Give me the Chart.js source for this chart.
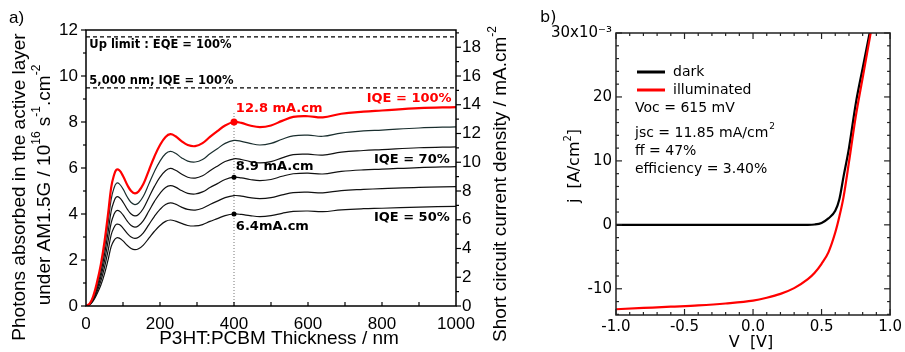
<!DOCTYPE html>
<html>
<head>
<meta charset="utf-8">
<script src="https://cdn.jsdelivr.net/npm/chart.js@4.4.1/dist/chart.umd.min.js"></script>
<style>
    html, body { margin: 0; padding: 0; background: #fff; }
    #wrap { position: relative; width: 905px; height: 352px; }
    canvas { position: absolute; top: 0; }
    #thicknessChart { left: 0; }
    #ivChart { left: 530px; }
</style>
</head>
<body>
<div id="wrap">
    <canvas id="thicknessChart" width="530" height="352"></canvas>
    <canvas id="ivChart" width="375" height="352"></canvas>
</div>
<script>
// ---- (a) absorbed photons vs. P3HT:PCBM thickness (10^16 s-1.cm-2) ----
const thickness = [0, 10, 20, 30, 40, 50, 60, 68, 75, 82, 90, 100, 112, 122, 132, 142, 155, 170, 185, 200,
    215, 228, 242, 258, 275, 295, 315, 335, 355, 376, 400, 420, 443, 470, 500, 530, 560, 600, 640, 690,
    750, 800, 900, 1000];
const iqe100 = [0, 0.1, 0.45, 1.05, 1.8, 2.8, 4.05, 5.15, 5.65, 5.92, 5.9, 5.65, 5.25, 5.0, 4.9, 4.98, 5.3, 5.9, 6.5, 7.0,
    7.35, 7.47, 7.38, 7.17, 7.0, 6.95, 7.08, 7.35, 7.6, 7.85, 8.0, 7.96, 7.85, 7.78, 7.85, 8.05, 8.22, 8.25, 8.2, 8.36,
    8.45, 8.5, 8.6, 8.65];
const iqe90 = [0, 0.09, 0.41, 0.95, 1.62, 2.52, 3.65, 4.64, 5.09, 5.33, 5.31, 5.09, 4.73, 4.5, 4.41, 4.48, 4.77, 5.31, 5.85, 6.3,
    6.62, 6.72, 6.64, 6.45, 6.3, 6.26, 6.37, 6.62, 6.84, 7.07, 7.2, 7.16, 7.07, 7.0, 7.07, 7.25, 7.4, 7.43, 7.38, 7.52,
    7.61, 7.65, 7.74, 7.79];
const iqe80 = [0, 0.08, 0.36, 0.84, 1.44, 2.24, 3.24, 4.12, 4.52, 4.74, 4.72, 4.52, 4.2, 4.0, 3.92, 3.98, 4.24, 4.72, 5.2, 5.6,
    5.88, 5.98, 5.9, 5.74, 5.6, 5.56, 5.66, 5.88, 6.08, 6.28, 6.4, 6.37, 6.28, 6.22, 6.28, 6.44, 6.58, 6.6, 6.56, 6.69,
    6.76, 6.8, 6.88, 6.92];
const iqe70 = [0, 0.07, 0.32, 0.74, 1.26, 1.96, 2.84, 3.61, 3.96, 4.14, 4.13, 3.96, 3.68, 3.5, 3.43, 3.49, 3.71, 4.13, 4.55, 4.9,
    5.15, 5.23, 5.17, 5.02, 4.9, 4.87, 4.96, 5.15, 5.32, 5.5, 5.6, 5.57, 5.5, 5.45, 5.5, 5.64, 5.75, 5.78, 5.74, 5.85,
    5.92, 5.95, 6.02, 6.06];
const iqe60 = [0, 0.06, 0.27, 0.63, 1.08, 1.68, 2.43, 3.09, 3.39, 3.55, 3.54, 3.39, 3.15, 3.0, 2.94, 2.99, 3.18, 3.54, 3.9, 4.2,
    4.41, 4.48, 4.43, 4.3, 4.2, 4.17, 4.25, 4.41, 4.56, 4.71, 4.8, 4.78, 4.71, 4.67, 4.71, 4.83, 4.93, 4.95, 4.92, 5.02,
    5.07, 5.1, 5.16, 5.19];
const iqe50 = [0, 0.05, 0.23, 0.53, 0.9, 1.4, 2.03, 2.58, 2.83, 2.96, 2.95, 2.83, 2.63, 2.5, 2.45, 2.49, 2.65, 2.95, 3.25, 3.5,
    3.68, 3.74, 3.69, 3.59, 3.5, 3.48, 3.54, 3.68, 3.8, 3.93, 4.0, 3.98, 3.93, 3.89, 3.93, 4.03, 4.11, 4.13, 4.1, 4.18,
    4.23, 4.25, 4.3, 4.33];

const eqeLimit = 11.7;     // up limit, EQE = 100%
const thickLimit = 9.48;   // 5,000 nm, IQE = 100%
const markerThickness = 400;
const markerValues = [8.0, 5.6, 4.0];   // 12.8, 8.9 and 6.4 mA.cm-2
const dropTop = 8.45;

const thicknessTicks = [0, 200, 400, 600, 800, 1000];
const photonTicks = [0, 2, 4, 6, 8, 10, 12];
const currentTicks = [0, 2, 4, 6, 8, 10, 12, 14, 16, 18];
const currentMax = 19.2;   // right axis top, same height as 12 on the left

// ---- (b) j-V curves (10^-3 A/cm2) ----
const voltage = [-1.0, -0.8, -0.6, -0.4, -0.2, 0, 0.1, 0.2, 0.3, 0.4, 0.45, 0.5, 0.55, 0.6, 0.63, 0.66, 0.7, 0.75, 0.8, 0.86];
const jDark = [0, 0, 0, 0, 0, 0, 0, 0, 0, 0, 0.05, 0.3, 1.0, 2.2, 4.0, 7.5, 12.0, 19.0, 24.5, 31.0];
const jIlluminated = [-13.2, -13.0, -12.8, -12.6, -12.3, -11.85, -11.4, -10.8, -9.9, -8.5, -7.5, -6.1, -4.3, -1.2, 1.3, 4.3, 9.8, 17.0, 23.0, 30.2];

const vTicks = [-1, -0.5, 0, 0.5, 1];
const vTickLabels = ['-1.0', '-0.5', '0.0', '0.5', '1.0'];
const jTicks = [-10, 0, 10, 20, 30];
const jTickLabels = ['-10', '0', '10', '20', '30x10\u207B\u00B3'];

const RED = '#ff0000';
const ARIAL = '"Liberation Sans", Arial, sans-serif';
const DEJAVU = '"DejaVu Sans", Verdana, sans-serif';

Chart.defaults.animation = false;
Chart.defaults.color = '#000';

const fixedTicks = values => scale => {
    scale.ticks = values.map(v => ({ value: v }));
};

// text with superscript pieces: strings are normal, one-item arrays are raised
function drawRich(ctx, parts, x, y, angle, size, family, weight = 'normal', color = '#000') {
    const base = `${weight} ${size}px ${family}`;
    const sup = `${weight} ${Math.round(size * 0.62)}px ${family}`;
    ctx.save();
    ctx.translate(x, y);
    ctx.rotate(angle);
    ctx.fillStyle = color;
    ctx.textBaseline = 'middle';
    ctx.textAlign = 'left';
    let total = 0;
    parts.forEach(p => {
        ctx.font = Array.isArray(p) ? sup : base;
        total += ctx.measureText(Array.isArray(p) ? p[0] : p).width;
    });
    let cx = -total / 2;
    parts.forEach(p => {
        const isSup = Array.isArray(p);
        const t = isSup ? p[0] : p;
        ctx.font = isSup ? sup : base;
        ctx.fillText(t, cx, isSup ? -size * 0.42 : 0);
        cx += ctx.measureText(t).width;
    });
    ctx.restore();
}

function line(ctx, x1, y1, x2, y2) {
    ctx.beginPath();
    ctx.moveTo(x1, y1);
    ctx.lineTo(x2, y2);
    ctx.stroke();
}

// ---------------- panel (a) ----------------
const curve = (values, color, width) => ({
    data: thickness.map((t, i) => ({ x: t, y: values[i] })),
    borderColor: color,
    borderWidth: width,
    pointRadius: 0,
    tension: 0.4,
    fill: false
});

const flatLine = value => ({
    data: [{ x: 0, y: value }, { x: 1000, y: value }],
    borderColor: '#000',
    borderWidth: 1.2,
    borderDash: [4, 3],
    pointRadius: 0
});

const thicknessNotes = [
    { text: 'Up limit : EQE = 100%', x: 9, y: 11.35, align: 'left', size: 11.5, color: '#000' },
    { text: '5,000 nm; IQE = 100%', x: 9, y: 9.78, align: 'left', size: 11.5, color: '#000' },
    { text: '12.8 mA.cm', x: 405, y: 8.57, align: 'left', size: 13, color: RED },
    { text: 'IQE = 100%', x: 988, y: 9.0, align: 'right', size: 13, color: RED },
    { text: '8.9 mA.cm', x: 405, y: 6.04, align: 'left', size: 13, color: '#000' },
    { text: 'IQE = 70%', x: 983, y: 6.35, align: 'right', size: 13, color: '#000' },
    { text: '6.4mA.cm', x: 405, y: 3.43, align: 'left', size: 13, color: '#000' },
    { text: 'IQE = 50%', x: 983, y: 3.83, align: 'right', size: 13, color: '#000' }
];

const thicknessDecor = {
    id: 'thicknessDecor',
    afterDraw(chart) {
        const { ctx, chartArea: a, scales } = chart;
        const { x, y, y2 } = scales;
        ctx.save();
        ctx.strokeStyle = '#000';
        ctx.lineWidth = 1.5;
        ctx.strokeRect(a.left, a.top, a.right - a.left, a.bottom - a.top);

        ctx.lineWidth = 1.2;
        for (let v = 0; v <= 12; v++) {
            const py = y.getPixelForValue(v);
            line(ctx, a.left, py, a.left - (v % 2 ? 3 : 5), py);
        }
        for (let v = 0; v <= 19; v++) {
            const py = y2.getPixelForValue(v);
            line(ctx, a.right, py, a.right + (v % 2 ? 3 : 5), py);
        }
        for (let v = 100; v < 1000; v += 100) {
            const px = x.getPixelForValue(v);
            line(ctx, px, a.bottom, px, a.bottom - 4);
        }

        thicknessNotes.forEach(n => {
            ctx.font = `bold ${n.size}px ${DEJAVU}`;
            ctx.fillStyle = n.color;
            ctx.textAlign = n.align;
            ctx.textBaseline = 'middle';
            ctx.fillText(n.text, x.getPixelForValue(n.x), y.getPixelForValue(n.y));
        });

        ctx.font = `17px ${ARIAL}`;
        ctx.fillStyle = '#000';
        ctx.textAlign = 'left';
        ctx.fillText('a)', 9, 18);

        drawRich(ctx, ['Photons absorbed in the active layer'], 20, 187, -Math.PI / 2, 19, ARIAL);
        drawRich(ctx, ['under AM1.5G / 10', ['16'], ' s', ['-1'], '.cm', ['-2']], 45, 185, -Math.PI / 2, 19, ARIAL);
        drawRich(ctx, ['Short circuit current density / mA.cm', ['-2']], 501, 184, -Math.PI / 2, 19, ARIAL);
        drawRich(ctx, ['P3HT:PCBM Thickness / nm'], (a.left + a.right) / 2 + 8, 339, 0, 19, ARIAL);
        ctx.restore();
    }
};

new Chart(document.getElementById('thicknessChart'), {
    type: 'line',
    data: {
        datasets: [
            {
                data: markerValues.map(v => ({ x: markerThickness, y: v })),
                showLine: false,
                pointRadius: [3.5, 2.5, 2.5],
                pointBorderWidth: 0,
                pointBackgroundColor: [RED, '#000', '#000']
            },
            curve(iqe100, RED, 2.2),
            curve(iqe90, '#1a2e2e', 1.2),
            curve(iqe80, '#111', 1.2),
            curve(iqe70, '#111', 1.2),
            curve(iqe60, '#111', 1.2),
            curve(iqe50, '#111', 1.2),
            {
                data: [{ x: markerThickness, y: 0 }, { x: markerThickness, y: dropTop }],
                borderColor: '#777',
                borderWidth: 1,
                borderDash: [1, 2],
                pointRadius: 0
            },
            flatLine(eqeLimit),
            flatLine(thickLimit)
        ]
    },
    options: {
        responsive: false,
        events: [],
        layout: { padding: { top: 30, left: 0, right: 0, bottom: 0 } },
        plugins: { legend: { display: false }, tooltip: { enabled: false } },
        scales: {
            x: {
                type: 'linear', min: 0, max: 1000,
                afterBuildTicks: fixedTicks(thicknessTicks),
                afterFit: s => { s.height = 46; },
                grid: { display: false, drawTicks: false },
                border: { display: false },
                ticks: { padding: 8, maxRotation: 0, font: { family: ARIAL, size: 17 }, callback: v => String(v) }
            },
            y: {
                position: 'left', min: 0, max: 12,
                afterBuildTicks: fixedTicks(photonTicks),
                afterFit: s => { s.width = 86; },
                grid: { display: false, drawTicks: false },
                border: { display: false },
                ticks: { padding: 8, font: { family: ARIAL, size: 17 } }
            },
            y2: {
                position: 'right', min: 0, max: currentMax,
                afterBuildTicks: fixedTicks(currentTicks),
                afterFit: s => { s.width = 74; },
                grid: { display: false, drawTicks: false },
                border: { display: false },
                ticks: { padding: 6, font: { family: ARIAL, size: 17 } }
            }
        }
    },
    plugins: [thicknessDecor]
});

// ---------------- panel (b) ----------------
const ivDecor = {
    id: 'ivDecor',
    afterDraw(chart) {
        const { ctx, chartArea: a, scales } = chart;
        const { x, y } = scales;
        ctx.save();
        ctx.strokeStyle = '#222';
        ctx.lineWidth = 1.5;
        ctx.strokeRect(a.left, a.top, a.right - a.left, a.bottom - a.top);

        ctx.lineWidth = 1.2;
        for (let k = -10; k <= 10; k++) {
            const px = x.getPixelForValue(k / 10);
            const len = k % 5 === 0 ? 6 : 3;
            line(ctx, px, a.bottom, px, a.bottom - len);
            line(ctx, px, a.top, px, a.top + len);
        }
        for (let v = -14; v <= 30; v += 2) {
            const py = y.getPixelForValue(v);
            const len = v % 10 === 0 ? 6 : 3;
            line(ctx, a.left, py, a.left + len, py);
            line(ctx, a.right, py, a.right - len, py);
        }

        // legend and device figures
        ctx.lineWidth = 3;
        ctx.strokeStyle = '#000';
        line(ctx, 107, 72, 135, 72);
        ctx.strokeStyle = RED;
        line(ctx, 107, 90, 135, 90);

        ctx.fillStyle = '#000';
        ctx.font = `14px ${DEJAVU}`;
        ctx.textAlign = 'left';
        ctx.textBaseline = 'middle';
        ctx.fillText('dark', 143, 72);
        ctx.fillText('illuminated', 143, 90);
        ctx.fillText('Voc = 615 mV', 105, 108);
        ctx.fillText('ff = 47%', 105, 151);
        ctx.fillText('efficiency = 3.40%', 105, 169);
        const jsc = 'jsc = 11.85 mA/cm';
        ctx.fillText(jsc, 105, 133);
        const jscWidth = ctx.measureText(jsc).width;
        ctx.font = `9px ${DEJAVU}`;
        ctx.fillText('2', 106 + jscWidth, 127);

        ctx.font = `16px ${DEJAVU}`;
        ctx.fillText('b)', 10, 18);
        drawRich(ctx, ['j  [A/cm', ['2'], ']'], 45, 166, -Math.PI / 2, 16, DEJAVU);
        drawRich(ctx, ['V  [V]'], (a.left + a.right) / 2 - 2, 343, 0, 16, DEJAVU);
        ctx.restore();
    }
};

const ivCurve = (values, color) => ({
    data: voltage.map((v, i) => ({ x: v, y: values[i] })),
    borderColor: color,
    borderWidth: 2.2,
    pointRadius: 0,
    cubicInterpolationMode: 'monotone',
    fill: false
});

new Chart(document.getElementById('ivChart'), {
    type: 'line',
    data: {
        datasets: [
            ivCurve(jIlluminated, RED),
            ivCurve(jDark, '#000')
        ]
    },
    options: {
        responsive: false,
        events: [],
        layout: { padding: { top: 33, left: 0, right: 7, bottom: 0 } },
        plugins: { legend: { display: false }, tooltip: { enabled: false } },
        scales: {
            x: {
                type: 'linear', min: -1, max: 1,
                afterBuildTicks: fixedTicks(vTicks),
                afterFit: s => { s.height = 37; },
                grid: { display: false, drawTicks: false },
                border: { display: false },
                ticks: { padding: 3, maxRotation: 0, font: { family: DEJAVU, size: 15 }, callback: (v, i) => vTickLabels[i] }
            },
            y: {
                min: -14.1, max: 30,
                afterBuildTicks: fixedTicks(jTicks),
                afterFit: s => { s.width = 86; },
                grid: { display: false, drawTicks: false },
                border: { display: false },
                ticks: { padding: 4, font: { family: DEJAVU, size: 15 }, callback: (v, i) => jTickLabels[i] }
            }
        }
    },
    plugins: [ivDecor]
});
</script>
</body>
</html>
